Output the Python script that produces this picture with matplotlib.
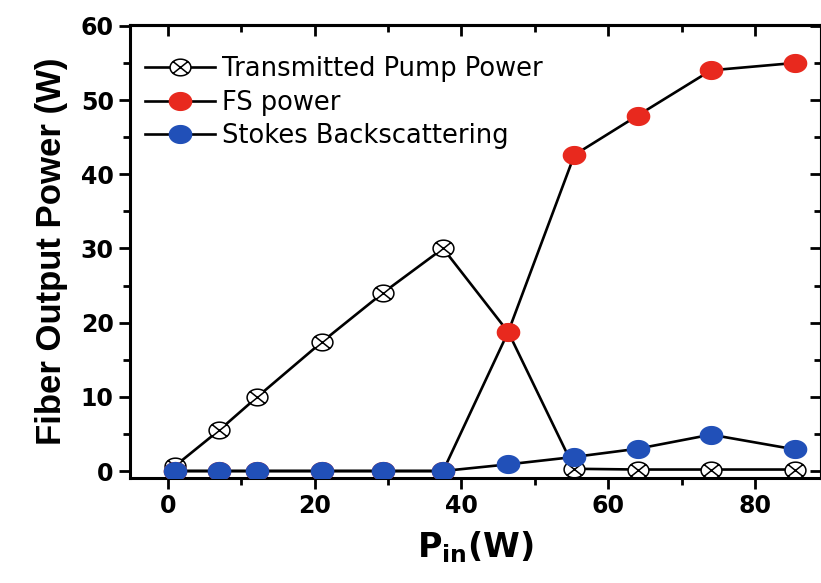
import matplotlib
matplotlib.use("Agg")
import matplotlib.pyplot as plt
import numpy as np
from matplotlib.path import Path
from matplotlib.ticker import MultipleLocator

plt.rcParams['font.family'] = ['DejaVu Sans']

# input pump power (W)
p_in = [1, 7, 12.2, 21, 29.3, 37.5, 46.4, 55.4, 64, 74, 85.5]
# output powers (W)
transmitted = [0.7, 5.5, 10, 17.4, 24, 30, 18.7, 0.3, 0.2, 0.2, 0.2]
fs_power = [0, 0, 0, 0, 0, 0, 18.8, 42.6, 47.9, 54.0, 55.0]
stokes = [0, 0, 0, 0, 0, 0, 0.9, 1.9, 3.0, 4.9, 2.9]

red = '#e8291e'
blue = '#2150b8'

# slightly wide markers, the original picture is stretched sideways
t = np.linspace(0, 2 * np.pi, 61)
ell = np.column_stack([1.25 * np.cos(t), np.sin(t)])
dot = Path(ell, closed=True)
d = 0.72
verts = list(ell) + [(-1.25 * d, -d), (1.25 * d, d), (-1.25 * d, d), (1.25 * d, -d)]
codes = [Path.MOVETO] + [Path.LINETO] * 59 + [Path.CLOSEPOLY] + \
        [Path.MOVETO, Path.LINETO, Path.MOVETO, Path.LINETO]
crossed = Path(verts, codes)

fig = plt.figure(figsize=(8.21, 5.83), dpi=100)
ax = fig.add_axes([0.158, 0.180, 0.842, 0.777])

l1, = ax.plot(p_in, transmitted, '-', marker=crossed, color='black', lw=1.9, ms=15,
              mfc='white', mec='black', mew=1.1, zorder=2)
l2, = ax.plot(p_in, fs_power, '-', marker=dot, color='black', lw=1.9, ms=16,
              mfc=red, mec=red, zorder=3)
l3, = ax.plot(p_in, stokes, '-', marker=dot, color='black', lw=1.9, ms=16,
              mfc=blue, mec=blue, zorder=4)

ax.set_xlim(-5.2, 89)
ax.set_ylim(-0.95, 60.1)
ax.xaxis.set_major_locator(MultipleLocator(20))
ax.xaxis.set_minor_locator(MultipleLocator(10))
ax.yaxis.set_major_locator(MultipleLocator(10))
ax.yaxis.set_minor_locator(MultipleLocator(5))

for s in ax.spines.values():
    s.set_linewidth(2.2)
ax.tick_params(which='both', width=2, labelsize=17, direction='out')
ax.tick_params(which='major', length=8)
ax.tick_params(which='minor', length=5)
for lab in ax.get_xticklabels() + ax.get_yticklabels():
    lab.set_fontweight('bold')

# mirrored ticks pointing inward on top and right
top = ax.secondary_xaxis('top')
right = ax.secondary_yaxis('right')
top.xaxis.set_major_locator(MultipleLocator(20))
top.xaxis.set_minor_locator(MultipleLocator(10))
right.yaxis.set_major_locator(MultipleLocator(10))
right.yaxis.set_minor_locator(MultipleLocator(5))
top.tick_params(which='both', direction='in', width=2, labeltop=False)
right.tick_params(which='both', direction='in', width=2, labelright=False)
for sec in (top, right):
    sec.tick_params(which='major', length=8)
    sec.tick_params(which='minor', length=5)
    for s in sec.spines.values():
        s.set_linewidth(2.2)

ax.set_xlabel(r'P$_{\mathbf{in}}$(W)', fontsize=24, fontweight='bold', labelpad=8)
ax.set_ylabel('Fiber Output Power (W)', fontsize=25, fontweight='bold',
              labelpad=9, family='Liberation Sans')

ax.legend([l1, l2, l3],
          ['Transmitted Pump Power', 'FS power', 'Stokes Backscattering'],
          loc='upper left', frameon=False, fontsize=18.5, handlelength=2.7,
          handletextpad=0.3, labelspacing=0.28, borderaxespad=0.2,
          bbox_to_anchor=(0.0, 0.965))

fig.savefig('out.png', dpi=100)
